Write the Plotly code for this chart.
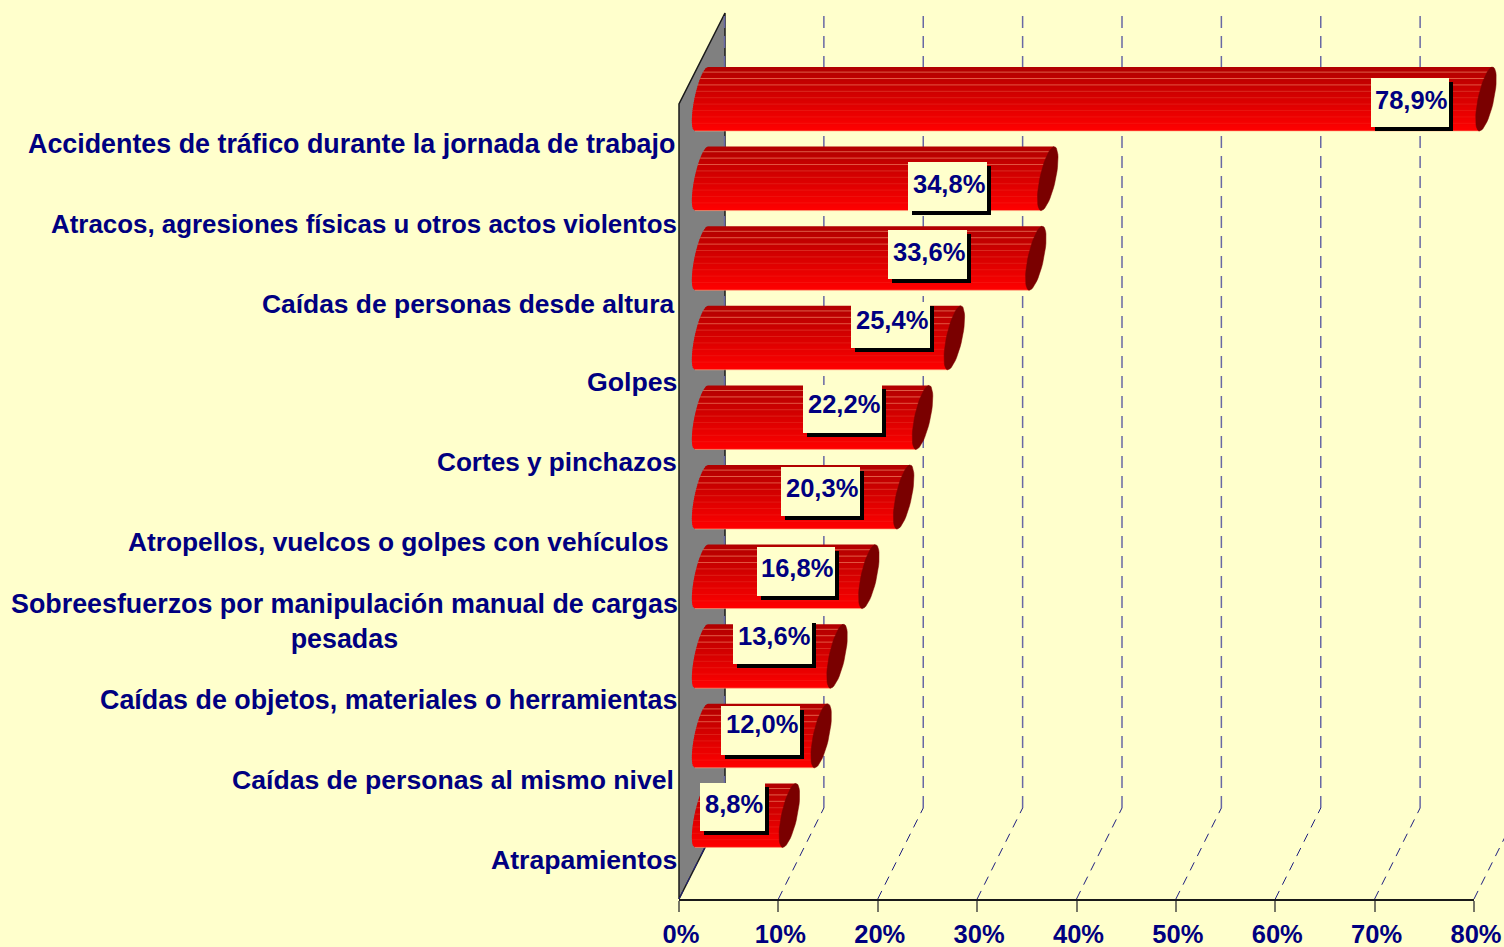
import plotly.graph_objects as go
import numpy as np

categories = [
    "Accidentes de tráfico durante la jornada de trabajo",
    "Atracos, agresiones físicas u otros actos violentos",
    "Caídas de personas desde altura",
    "Golpes",
    "Cortes y pinchazos",
    "Atropellos, vuelcos o golpes con vehículos",
    "Sobreesfuerzos por manipulación manual de cargas<br>pesadas",
    "Caídas de objetos, materiales o herramientas",
    "Caídas de personas al mismo nivel",
    "Atrapamientos",
]
values = [78.9, 34.8, 33.6, 25.4, 22.2, 20.3, 16.8, 13.6, 12.0, 8.8]
x_ticks = [0, 10, 20, 30, 40, 50, 60, 70, 80]

# ---- layout constants (page pixels) ----
W, H = 1504, 947
PX0, PX_UNIT = 679.0, 9.9375
PY0, PY_UNIT = 144.0, 79.6
FLOOR = 899.0
NAVY = "#000080"
BG = "#FFFFCC"
FONT = "Liberation Sans"

def X(px):
    return (px - PX0) / PX_UNIT
def Y(py):
    return (py - PY0) / PY_UNIT
def dX(px):
    return px / PX_UNIT
def dY(py):
    return py / PY_UNIT

# right edge and font size of each category label
cat_right = [675, 677, 674, 677, 677, 669, 678, 677, 674, 677]
cat_size = [26.85, 25.9, 26.4, 26.7, 26.15, 26.3, 26.85, 26.85, 26.6, 26.6]
cat_nudge = [0, 0, 0.5, -0.5, 0, 0, 0, -0.8, -0.8, 0]

# hand-placed data-label boxes, page pixels: left, right, top, bottom, text-centre-y
label_boxes = [
    (1371, 1449, 78, 127, 100),
    (908, 987, 162, 211, 184),
    (888, 967, 230, 279, 252),
    (851, 930, 302, 348, 320),
    (803, 882, 385, 433, 404),
    (781, 860, 467, 516, 488),
    (757, 835, 547, 596, 568),
    (733, 812, 619, 664, 636),
    (721, 800, 706, 755, 724),
    (700, 765, 783, 831, 804),
]

fig = go.Figure()

# main (visible) subplot: carries the percentage axis
fig.add_trace(go.Scatter(x=[0, 80], y=[Y(FLOOR), Y(FLOOR)], mode="lines", xaxis="x", yaxis="y",
                         line=dict(color="#1a1a1a", width=1), hoverinfo="skip", showlegend=False))

# back wall
wx = [X(679), X(725), X(725), X(679), X(679)]
wy = [Y(FLOOR), Y(FLOOR - 91), Y(13), Y(104), Y(FLOOR)]
fig.add_trace(go.Scatter(x=wx, y=wy, mode="lines", fill="toself", fillcolor="#808080",
                         line=dict(color="#1a1a1a", width=1.5), xaxis="x2", yaxis="y",
                         hoverinfo="skip", showlegend=False))

# grid
vx, vy, dx_, dy_ = [], [], [], []
for t in x_ticks:
    vx += [t + dX(45.5), t + dX(45.5), None]
    vy += [Y(FLOOR - 91), Y(15), None]
    dx_ += [t, t + dX(45.5), None]
    dy_ += [Y(FLOOR), Y(FLOOR - 91), None]
fig.add_trace(go.Scatter(x=vx, y=vy, mode="lines", xaxis="x2", yaxis="y", hoverinfo="skip", showlegend=False,
                         line=dict(color="#6868A4", width=1.5, dash="12px,8px")))
fig.add_trace(go.Scatter(x=dx_, y=dy_, mode="lines", xaxis="x2", yaxis="y", hoverinfo="skip", showlegend=False,
                         line=dict(color="#202080", width=1, dash="9px,7px")))

# tube geometry
BAR_START = 1.5   # bars begin this far right of the zero tick
SLANT, WIDE, HALF = 6.5, 8.0, 32.0
N = 32

def left_x(s):
    return BAR_START + dX(7.5 + SLANT * s - 7.0 * np.sqrt(max(0, 1 - s * s)))

for k in range(N):
    t0, t1 = k / N, (k + 1.35) / N
    t1 = min(t1, 1)
    s0, s1 = 2 * t0 - 1, 2 * t1 - 1
    xs, ys = [], []
    for i, v in enumerate(values):
        bottom = i - dY(13)
        cx = BAR_START + v + dX(8)
        ss = np.linspace(s0, s1, 4)
        xs += [left_x(s) for s in ss]
        ys += [bottom - dY(HALF * (1 + s)) for s in ss]
        xs += [cx + dX(SLANT * s1), cx + dX(SLANT * s0), None]
        ys += [bottom - dY(HALF * (1 + s1)), bottom - dY(HALF * (1 + s0)), None]
    tm = (k + 0.5) / N
    red = int(round(255 - 79 * tm))
    col = f"rgb({red},0,0)"
    fig.add_trace(go.Scatter(x=xs, y=ys, mode="lines", fill="toself", fillcolor=col,
                             line=dict(color=col, width=0), xaxis="x2", yaxis="y",
                             hoverinfo="skip", showlegend=False))

# light band edges
for j, (level, alpha) in enumerate([(0.92, .55), (0.82, .55), (0.72, .5), (0.62, .25),
                                    (0.52, .18), (0.42, .14), (0.32, .12), (0.22, .1),
                                    (0.12, .1), (0.0, .6)]):
    s = 2 * level - 1
    xs, ys = [], []
    for i, v in enumerate(values):
        bottom = i - dY(13)
        xs += [left_x(s), BAR_START + v + dX(8 + SLANT * s), None]
        yy = bottom - dY(HALF * (1 + s))
        ys += [yy, yy, None]
    fig.add_trace(go.Scatter(x=xs, y=ys, mode="lines", xaxis="x2", yaxis="y", hoverinfo="skip", showlegend=False,
                             line=dict(color=f"rgba(255,170,130,{alpha})", width=1)))

# dark end caps
xs, ys = [], []
for i, v in enumerate(values):
    bottom = i - dY(13)
    cx = BAR_START + v + dX(8)
    th = np.linspace(-np.pi / 2, 3 * np.pi / 2, 50)
    ss = np.sin(th)
    xs += list(cx + dX(SLANT * ss + WIDE * np.cos(th))) + [None]
    ys += list(bottom - dY(HALF * (1 + ss))) + [None]
fig.add_trace(go.Scatter(x=xs, y=ys, mode="lines", fill="toself", fillcolor="#7A0000",
                         line=dict(color="#7A0000", width=0.5), xaxis="x2", yaxis="y",
                         hoverinfo="skip", showlegend=False))

# data labels
shapes, annotations = [], []
for v, (l, r, tp, b, cy) in zip(values, label_boxes):
    shapes.append(dict(type="rect", xref="x2", yref="y", layer="above",
                       x0=X(l + 4), x1=X(r + 4), y0=Y(tp + 4), y1=Y(b + 4),
                       fillcolor="#000000", line=dict(width=0)))
    shapes.append(dict(type="rect", xref="x2", yref="y", layer="above",
                       x0=X(l), x1=X(r), y0=Y(tp), y1=Y(b),
                       fillcolor=BG, line=dict(width=0)))
    annotations.append(dict(xref="x2", yref="y", x=X((l + r) / 2 + 1), y=Y(cy), showarrow=False,
                            text="<b>" + f"{v:.1f}".replace(".", ",") + "%</b>",
                            font=dict(family=FONT, size=25.5, color=NAVY)))

# category labels
for i, (c, r, sz, nudge) in enumerate(zip(categories, cat_right, cat_size, cat_nudge)):
    annotations.append(dict(xref="x2", yref="y", x=X(r + 2), y=i + dY(nudge), showarrow=False, xanchor="right",
                            align="center", text=f"<b>{c.replace('<br>', '</b><br><b>')}</b>",
                            font=dict(family=FONT, size=sz, color=NAVY)))

bottom_frac = (H - FLOOR) / H
fig.update_layout(
    width=W, height=H, autosize=False,
    margin=dict(l=0, r=0, t=0, b=0, autoexpand=False),
    paper_bgcolor=BG, plot_bgcolor=BG,
    showlegend=False,
    shapes=shapes, annotations=annotations,
    xaxis=dict(domain=[PX0 / W, (PX0 + 80 * PX_UNIT) / W], range=[0, 80], anchor="y",
               tickvals=x_ticks, ticktext=[f"{t}%" for t in x_ticks],
               tickfont=dict(family=FONT, size=25.5, color=NAVY, weight="bold"),
               ticks="outside", ticklen=11, tickwidth=2, tickcolor="#777766", automargin=False,
               ticklabelshift=2, ticklabelstandoff=1,
               showgrid=False, zeroline=False, showline=True, linecolor="#1a1a1a", linewidth=1.5),
    xaxis2=dict(domain=[0, 1], range=[X(0), X(W)], anchor="y", visible=False),
    yaxis=dict(domain=[bottom_frac, 1], range=[Y(FLOOR), Y(0)], anchor="x", automargin=False,
               showticklabels=False, ticks="", showgrid=False, zeroline=False, showline=False),
)
fig.write_html("out.html", config=dict(displayModeBar=False),
               post_script="document.body.style.margin='0';document.body.style.overflow='hidden';")
